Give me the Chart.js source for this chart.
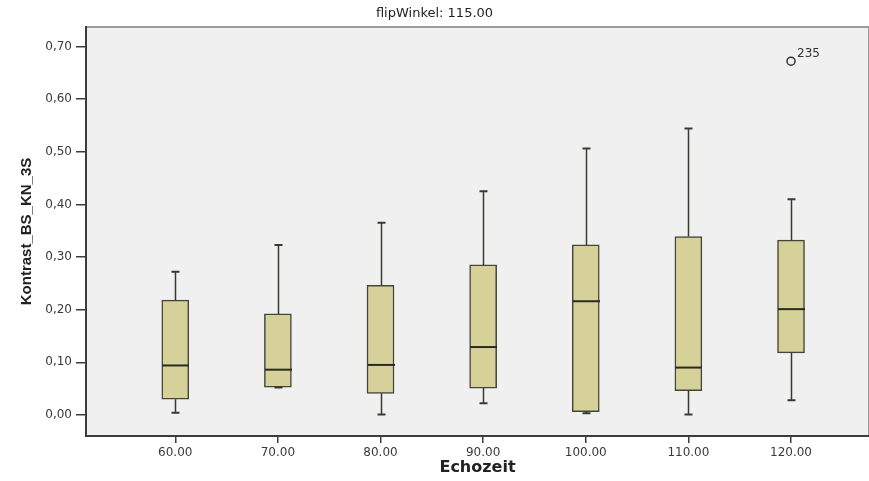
<!DOCTYPE html>
<html>
<head>
<meta charset="utf-8">
<script src="https://cdn.jsdelivr.net/npm/chart.js@4"></script>
<style>
  body { margin: 0; background: #ffffff; }
  #wrap { width: 869px; height: 481px; }
</style>
</head>
<body>
<div id="wrap"><canvas id="boxChart" width="869" height="481"></canvas></div>
<script>
const echozeiten = [60, 70, 80, 90, 100, 110, 120];
const whiskerUnten = [0.004, 0.052, 0.001, 0.022, 0.003, 0.001, 0.028];
const quartil1 = [0.030, 0.053, 0.041, 0.051, 0.006, 0.046, 0.118];
const medianWerte = [0.094, 0.086, 0.095, 0.129, 0.216, 0.090, 0.201];
const quartil3 = [0.218, 0.192, 0.246, 0.285, 0.323, 0.339, 0.332];
const whiskerOben = [0.272, 0.323, 0.365, 0.425, 0.506, 0.544, 0.410];

// Ausreisser
const ausreisserX = [120];
const ausreisserY = [0.672];
const ausreisserLabel = ['235'];

// Achsenbeschriftungen
const yTicks = [0, 0.1, 0.2, 0.3, 0.4, 0.5, 0.6, 0.7];
const xTicks = echozeiten;

// Hintergrund der Zeichenfläche + Rahmen oben/rechts
const hintergrundPlugin = {
    id: 'hintergrund',
    beforeDraw(chart) {
        const { ctx, chartArea } = chart;
        ctx.save();
        ctx.fillStyle = '#f0f0f0';
        ctx.fillRect(chartArea.left, chartArea.top, chartArea.right - chartArea.left, chartArea.bottom - chartArea.top);
        ctx.strokeStyle = '#9a9a9a';
        ctx.lineWidth = 2;
        ctx.beginPath();
        ctx.moveTo(chartArea.left, chartArea.top);
        ctx.lineTo(chartArea.right, chartArea.top);
        ctx.lineTo(chartArea.right, chartArea.bottom);
        ctx.stroke();
        ctx.restore();
    }
};

// Whisker, Mediane und Ausreisser-Beschriftung
const boxplotPlugin = {
    id: 'boxplot',
    afterDatasetsDraw(chart) {
        const { ctx } = chart;
        const x = chart.scales.x;
        const y = chart.scales.y;
        const boxBreite = 27;
        const kappe = 4;
        ctx.save();
        ctx.strokeStyle = '#3a3a32';
        echozeiten.forEach((e, i) => {
            const px = Math.round(x.getPixelForValue(e)) + 0.5;
            ctx.lineWidth = 1.5;
            ctx.beginPath();
            ctx.moveTo(px, y.getPixelForValue(quartil3[i]));
            ctx.lineTo(px, y.getPixelForValue(whiskerOben[i]));
            ctx.moveTo(px, y.getPixelForValue(quartil1[i]));
            ctx.lineTo(px, y.getPixelForValue(whiskerUnten[i]));
            ctx.stroke();
            ctx.lineWidth = 2;
            ctx.beginPath();
            ctx.moveTo(px - kappe, y.getPixelForValue(whiskerOben[i]));
            ctx.lineTo(px + kappe, y.getPixelForValue(whiskerOben[i]));
            ctx.moveTo(px - kappe, y.getPixelForValue(whiskerUnten[i]));
            ctx.lineTo(px + kappe, y.getPixelForValue(whiskerUnten[i]));
            ctx.stroke();
            // Median
            ctx.strokeStyle = '#2a2a22';
            ctx.lineWidth = 2;
            ctx.beginPath();
            ctx.moveTo(px - boxBreite / 2, y.getPixelForValue(medianWerte[i]));
            ctx.lineTo(px + boxBreite / 2, y.getPixelForValue(medianWerte[i]));
            ctx.stroke();
            ctx.strokeStyle = '#3a3a32';
        });
        ctx.fillStyle = '#333333';
        ctx.font = '12px "DejaVu Sans"';
        ctx.textBaseline = 'alphabetic';
        ausreisserX.forEach((ax, i) => {
            const px = x.getPixelForValue(ax);
            const py = y.getPixelForValue(ausreisserY[i]);
            ctx.fillText(ausreisserLabel[i], px + 6, py - 4);
        });
        ctx.restore();
    }
};

const boxDaten = echozeiten.map((e, i) => ({ x: e, y: [quartil1[i], quartil3[i]] }));
const ausreisserDaten = ausreisserX.map((ax, i) => ({ x: ax, y: ausreisserY[i] }));

new Chart(document.getElementById('boxChart'), {
    type: 'bar',
    data: {
        datasets: [{
            type: 'bar',
            label: 'Kontrast_BS_KN_3S',
            data: boxDaten,
            backgroundColor: '#d5d199',
            borderColor: '#45453a',
            borderWidth: 1.5,
            borderSkipped: false,
            barThickness: 27
        }, {
            type: 'scatter',
            label: 'Ausreisser',
            data: ausreisserDaten,
            pointStyle: 'circle',
            radius: 4,
            borderColor: '#333333',
            backgroundColor: 'rgba(0,0,0,0)',
            borderWidth: 1.5
        }]
    },
    options: {
        responsive: false,
        animation: false,
        devicePixelRatio: 1,
        layout: { autoPadding: false, padding: 0 },
        plugins: {
            legend: { display: false },
            tooltip: { enabled: false },
            title: {
                display: true,
                text: 'flipWinkel: 115.00',
                color: '#222222',
                font: { family: '"DejaVu Sans"', size: 13, weight: 'normal', lineHeight: 1.2 },
                padding: { top: 6, bottom: 5.4 }
            }
        },
        scales: {
            x: {
                type: 'linear',
                min: 51.3,
                max: 127.6,
                offset: false,
                afterBuildTicks: (scale) => { scale.ticks = xTicks.map(v => ({ value: v })); },
                afterFit: (scale) => { scale.height = 45; scale.paddingRight = 0; scale.paddingLeft = 0; },
                border: { display: true, color: '#3c3c3c', width: 2 },
                grid: { display: true, offset: false, drawOnChartArea: false, drawTicks: true, tickLength: 7, color: '#3c3c3c', lineWidth: 1.5 },
                ticks: {
                    color: '#3a3a3a',
                    font: { family: '"DejaVu Sans"', size: 12 },
                    padding: 3,
                    autoSkip: false,
                    maxRotation: 0,
                    callback: (v) => Number(v).toFixed(2)
                },
                title: {
                    display: true,
                    text: 'Echozeit',
                    color: '#222222',
                    font: { family: '"DejaVu Sans"', size: 16, weight: 'bold', lineHeight: 1.2 }
                }
            },
            y: {
                min: -0.04,
                max: 0.737,
                afterBuildTicks: (scale) => { scale.ticks = yTicks.map(v => ({ value: v })); },
                afterFit: (scale) => { scale.width = 86; },
                border: { display: true, color: '#3c3c3c', width: 2 },
                grid: { display: true, drawOnChartArea: false, drawTicks: true, tickLength: 10, color: '#3c3c3c', lineWidth: 1.5 },
                ticks: {
                    color: '#3a3a3a',
                    font: { family: '"DejaVu Sans"', size: 12 },
                    padding: 4,
                    callback: (v) => Number(v).toFixed(2).replace('.', ',')
                },
                title: {
                    display: true,
                    text: 'Kontrast_BS_KN_3S',
                    color: '#222222',
                    font: { family: '"Liberation Sans"', size: 15, weight: 'bold', lineHeight: 3 }
                }
            }
        }
    },
    plugins: [hintergrundPlugin, boxplotPlugin]
});
</script>
</body>
</html>
